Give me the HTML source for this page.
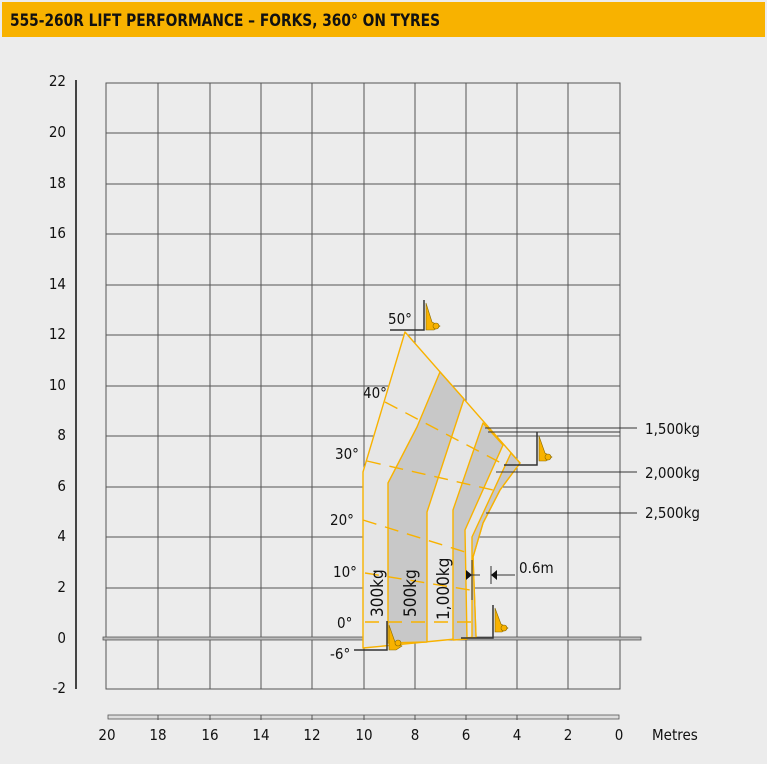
<!DOCTYPE html>
<html><head><meta charset="utf-8"><style>
html,body{margin:0;padding:0;background:#ececec;}
svg{display:block;font-family:"DejaVu Sans Condensed","Liberation Sans",sans-serif;}
</style></head><body>
<svg width="767" height="764" viewBox="0 0 767 764" xmlns="http://www.w3.org/2000/svg">
<rect width="767" height="764" fill="#ececec"/>
<rect x="2" y="2" width="763" height="35" fill="#f8b200"/>
<text x="10" y="26" font-size="17" font-weight="bold" fill="#111" textLength="430" lengthAdjust="spacingAndGlyphs">555-260R LIFT PERFORMANCE – FORKS, 360° ON TYRES</text>

<!-- grid -->
<g stroke="#555" stroke-width="1" fill="none">
<rect x="106" y="83" width="514" height="606"/>
<path d="M158 83V689M210 83V689M261 83V689M312 83V689M364 83V689M415 83V689M466 83V689M517 83V689M568 83V689"/>
<path d="M106 133H620M106 184H620M106 234H620M106 285H620M106 335H620M106 386H620M106 436H620M106 487H620M106 537H620M106 588H620"/>
</g>
<rect x="103" y="637" width="538" height="3" fill="#bbb" stroke="#555" stroke-width="0.8"/>
<line x1="76" y1="80" x2="76" y2="689" stroke="#444" stroke-width="2"/>
<rect x="108" y="715" width="511" height="4" fill="#ddd" stroke="#555" stroke-width="0.8"/>
<path d="M158 715v5M210 715v5M261 715v5M312 715v5M364 715v5M415 715v5M466 715v5M517 715v5M568 715v5" stroke="#555"/>

<g font-size="15" fill="#111" text-anchor="end">
<text x="66" y="86">22</text><text x="66" y="137">20</text><text x="66" y="188">18</text><text x="66" y="238">16</text><text x="66" y="289">14</text><text x="66" y="339">12</text><text x="66" y="390">10</text><text x="66" y="440">8</text><text x="66" y="491">6</text><text x="66" y="541">4</text><text x="66" y="592">2</text><text x="66" y="643">0</text><text x="66" y="693">-2</text>
</g>
<g font-size="15" fill="#111" text-anchor="middle">
<text x="107" y="740">20</text><text x="158" y="740">18</text><text x="210" y="740">16</text><text x="261" y="740">14</text><text x="312" y="740">12</text><text x="364" y="740">10</text><text x="415" y="740">8</text><text x="466" y="740">6</text><text x="517" y="740">4</text><text x="568" y="740">2</text><text x="619" y="740">0</text>
</g>
<text x="652" y="740" font-size="15" fill="#111">Metres</text>

<!-- envelope -->
<g stroke="#f8b200" stroke-width="1.4" stroke-linejoin="round">
<path d="M363 472L405 332L520 463L500 490L483 523L473 557L476 637L363 648Z" fill="#e6e6e6"/>
<path d="M440 372L417 427L388 483L388 643L427 642L427 512L464 399Z" fill="#c8c8c8"/>
<path d="M483 423L453 510L453 640L467 639L465 530L503 445Z" fill="#c8c8c8"/>
<path d="M511 453L472 537L472 638L476 637L473 557L483 523L500 490L520 463Z" fill="#c8c8c8"/>
</g>
<g stroke="#f8b200" stroke-width="1.4" stroke-dasharray="14,9" fill="none">
<path d="M385 402L505 465"/>
<path d="M367 461L493 490"/>
<path d="M363 520L465 552"/>
<path d="M365 573L470 590"/>
<path d="M365 622L472 622"/>
</g>

<!-- rotated load labels -->
<g font-size="17" fill="#111">
<text transform="translate(383,617) rotate(-90)">300kg</text>
<text transform="translate(416,617) rotate(-90)">500kg</text>
<text transform="translate(449,620) rotate(-90)">1,000kg</text>
</g>

<!-- angle labels -->
<g font-size="15" fill="#111">
<text x="388" y="324">50°</text>
<text x="363" y="398">40°</text>
<text x="335" y="459">30°</text>
<text x="330" y="525">20°</text>
<text x="333" y="577">10°</text>
<text x="337" y="628">0°</text>
<text x="330" y="659">-6°</text>
</g>

<!-- right labels -->
<g stroke="#333" stroke-width="1">
<path d="M485 428H637M488 432H620M496 472H637M486 513H637"/>
<path d="M470 575H480M491 575H515M472 560V600M491 566V584"/>
</g>
<path d="M472 575l-6 -5v10z M491 575l6 -5v10z" fill="#111"/>
<text x="519" y="573" font-size="15" fill="#111">0.6m</text>
<g font-size="15" fill="#111">
<text x="645" y="434">1,500kg</text>
<text x="645" y="478">2,000kg</text>
<text x="645" y="518">2,500kg</text>
</g>

<!-- forks icons -->
<g stroke="#333" stroke-width="1.5" fill="none">
<path d="M390 330H424V300"/>
<path d="M504 465H537V432"/>
<path d="M354 650H387V621"/>
<path d="M461 638H493V605"/>
</g>
<g fill="#f8b200" stroke="#8a6a00" stroke-width="0.6">
<path d="M426 303L432 322L440 326L434 330L426 330Z"/><circle cx="436" cy="326" r="3"/>
<path d="M539 436L545 453L552 457L546 461L539 461Z"/><circle cx="548" cy="457" r="3"/>
<path d="M389 625L395 642L402 646L396 650L389 650Z"/><circle cx="398" cy="643" r="3"/>
<path d="M495 608L501 624L508 628L502 632L495 632Z"/><circle cx="504" cy="628" r="3"/>
</g>
</svg>
</body></html>
